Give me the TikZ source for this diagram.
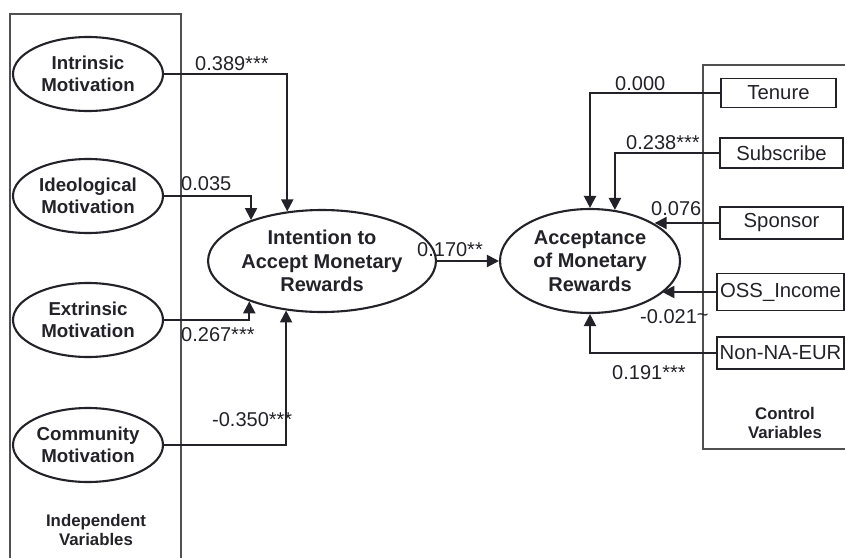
\documentclass[tikz,border=0pt]{standalone}
\usepackage{fontspec}
\setmainfont{Liberation Sans}
\usetikzlibrary{shapes.geometric,arrows.meta}
\definecolor{ink}{HTML}{222228}
\definecolor{frame}{HTML}{505050}
\begin{document}
\begin{tikzpicture}[x=1pt,y=-1pt,
  latent/.style={ellipse,draw=ink,line width=2.1pt,inner sep=0pt,align=center,text=ink,
    minimum width=150pt,minimum height=74pt,font=\bfseries\fontsize{18.7}{22}\selectfont},
  outcome/.style={latent,minimum width=182pt,minimum height=102pt,font=\bfseries\fontsize{20}{23.5}\selectfont},
  ctrl/.style={rectangle,draw=ink,line width=1.9pt,inner sep=0pt,text=ink,
    minimum height=31pt,font=\fontsize{20.3}{22}\selectfont},
  coef/.style={inner sep=0pt,anchor=base west,text=ink,font=\fontsize{20}{22}\selectfont},
  group/.style={inner sep=0pt,align=center,text=ink,font=\bfseries\fontsize{16.8}{19}\selectfont},
  path/.style={draw=ink,line width=2.1pt,-{Triangle[length=12pt,width=12pt]}},
  panel/.style={draw=frame,line width=1.2pt}]
\useasboundingbox (0,0) rectangle (845,557);

% grouping panels
\draw[panel] (10,575) -- (10,14) -- (181,14) -- (181,575);
\draw[panel] (860,65) -- (703,65) -- (703,449) -- (860,449);

% latent constructs
\node[latent] (intr) at (88,74) {Intrinsic\\Motivation};
\node[latent] (ideo) at (88,196) {Ideological\\Motivation};
\node[latent] (extr) at (88,320) {Extrinsic\\Motivation};
\node[latent] (comm) at (88,445) {Community\\Motivation};
\node[outcome] (int) at (322,261) {Intention to\\Accept Monetary\\Rewards};
\node[outcome,minimum width=180pt,minimum height=104pt] (acc) at (590,261) {Acceptance\\of Monetary\\Rewards};

% control variables
\node[ctrl,minimum width=115pt,minimum height=29pt] (ten) at (778.5,93) {Tenure};
\node[ctrl,minimum width=123pt,minimum height=30pt] (sub) at (781.5,153) {Subscribe};
\node[ctrl,minimum width=123pt,minimum height=32pt] (spo) at (781.5,223) {Sponsor};
\node[ctrl,minimum width=127pt,minimum height=37pt] (oss) at (780.5,292) {OSS\_Income};
\node[ctrl,minimum width=127pt,minimum height=32pt] (nna) at (780.5,353) {Non-NA-EUR};

% group captions
\node[group] (indep) at (96,530) {Independent\\Variables};
\node[group] (ctrlcap) at (785,423) {Control\\Variables};

% structural paths
\draw[path] (intr.east) -| (int.125.7);
\draw[path] (ideo.east) -| (int.150.4);
\draw[path] (extr.east) -| (int.209.6);
\draw[path] (comm.east) -| (int.234.3);
\draw[path] (int.east) -- (acc.west);

\draw[path] (ten.west) -| (acc.90);
\draw[path] (sub.west) -| (acc.64.4);
\draw[path] (spo.west) -- (acc.30.3 |- spo.west);
\draw[path] (oss.west) -- (acc.-24.3 |- oss.west);
\draw[path] (nna.west) -| (acc.270);

% path coefficients
\node[coef] (c1) at (195,70) {0.389***};
\node[coef] (c2) at (181,190) {0.035};
\node[coef] (c3) at (181,341) {0.267***};
\node[coef] (c4) at (212,426) {-0.350***};
\node[coef] (c5) at (417,256) {0.170**};
\node[coef] (c6) at (615,90) {0.000};
\node[coef] (c7) at (626,149) {0.238***};
\node[coef] (c8) at (651,215) {0.076};
\node[coef] (c9) at (640,323) {-0.021\raisebox{2pt}{\char"007E}};
\node[coef] (c10) at (612,379) {0.191***};
\end{tikzpicture}
\end{document}
